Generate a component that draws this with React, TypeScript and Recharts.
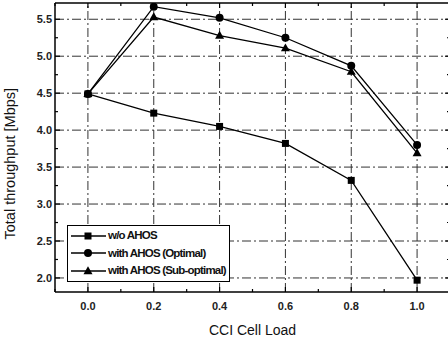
import {
  Legend,
  Line,
  LineChart,
  ReferenceLine,
  XAxis,
  YAxis,
} from 'recharts'

const loads = [0, 0.2, 0.4, 0.6, 0.8, 1.0]
const woAhos = [4.49, 4.23, 4.05, 3.82, 3.32, 1.97]
const optimal = [4.49, 5.67, 5.52, 5.25, 4.87, 3.8]
const subOptimal = [4.49, 5.53, 5.28, 5.11, 4.79, 3.69]

const xMajor = [0, 0.2, 0.4, 0.6, 0.8, 1.0]
const xMinor = [-0.1, 0.1, 0.3, 0.5, 0.7, 0.9, 1.1]
const yMajor = [2.0, 2.5, 3.0, 3.5, 4.0, 4.5, 5.0, 5.5]
const yMinor = [2.25, 2.75, 3.25, 3.75, 4.25, 4.75, 5.25]

const seriesNames = ['w/o AHOS', 'with AHOS (Optimal)', 'with AHOS (Sub-optimal)']

const data = loads.map((load, i) => ({
  load,
  wo: woAhos[i],
  opt: optimal[i],
  sub: subOptimal[i],
}))

const font = 'Arial, "Liberation Sans", sans-serif'
const gridDash = '9 3 2 3'

function Square({ cx, cy, size = 7 }: any) {
  return <rect x={cx - size / 2} y={cy - size / 2} width={size} height={size} fill="#000" />
}
function Circle({ cx, cy, r = 4 }: any) {
  return <circle cx={cx} cy={cy} r={r} fill="#000" />
}
function Triangle({ cx, cy, s = 9 }: any) {
  const h = s * 0.87
  return (
    <polygon
      points={`${cx},${cy - h * 0.6} ${cx - s / 2},${cy + h * 0.4} ${cx + s / 2},${cy + h * 0.4}`}
      fill="#000"
    />
  )
}

const markers = [Square, Circle, Triangle]

const allX = [...xMajor, ...xMinor].sort((a, b) => a - b)
const allY = [...yMajor, ...yMinor].sort((a, b) => a - b)
const isMajor = (v: number, list: number[]) => list.some((m) => Math.abs(m - v) < 1e-6)

function BottomTick({ x, y, payload }: any) {
  const major = isMajor(payload.value, xMajor)
  return (
    <g>
      <line x1={x} y1={y} x2={x} y2={y - (major ? 5 : 3)} stroke="#000" strokeWidth={1.2} />
      {major && (
        <text x={x} y={y + 18} textAnchor="middle" fontSize={11} fontWeight="bold" fill="#222" fontFamily={font}>
          {payload.value.toFixed(1)}
        </text>
      )}
    </g>
  )
}
function TopTick({ x, y, payload }: any) {
  const major = isMajor(payload.value, xMajor)
  return <line x1={x} y1={y} x2={x} y2={y + (major ? 5 : 3)} stroke="#000" strokeWidth={1.2} />
}
function LeftTick({ x, y, payload }: any) {
  const major = isMajor(payload.value, yMajor)
  return (
    <g>
      <line x1={x} y1={y} x2={x + (major ? 5 : 3)} y2={y} stroke="#000" strokeWidth={1.2} />
      {major && (
        <text x={x - 3} y={y + 4} textAnchor="end" fontSize={11} fontWeight="bold" fill="#222" fontFamily={font}>
          {payload.value.toFixed(1)}
        </text>
      )}
    </g>
  )
}
function RightTick({ x, y, payload }: any) {
  const major = isMajor(payload.value, yMajor)
  return <line x1={x} y1={y} x2={x - (major ? 5 : 3)} y2={y} stroke="#000" strokeWidth={1.2} />
}

function LegendBox() {
  return (
    <div
      style={{
        border: '1.5px solid #000',
        background: '#fff',
        padding: '1px 3px 1px 1px',
        fontFamily: font,
        fontSize: 11.5,
        fontWeight: 'bold',
        letterSpacing: -0.8,
        lineHeight: '17.5px',
        color: '#111',
        whiteSpace: 'nowrap',
      }}
    >
      {seriesNames.map((name, i) => {
        const M = markers[i]
        return (
          <div key={name} style={{ display: 'flex', alignItems: 'center' }}>
            <svg width={38} height={12} style={{ marginRight: 1 }}>
              <line x1={2} y1={6} x2={37} y2={6} stroke="#000" strokeWidth={1.3} />
              <M cx={19} cy={6} />
            </svg>
            <span>{name}</span>
          </div>
        )
      })}
    </div>
  )
}

export default function App() {
  const keys = ['wo', 'opt', 'sub']
  return (
    <div style={{ position: 'absolute', left: 0, top: 0, width: 448, height: 343, overflow: 'hidden', background: '#fff' }}>
      <LineChart width={452} height={343} data={data} margin={{ top: 2, right: 1, bottom: 0, left: 0 }}>
        {xMajor.map((v) => (
          <ReferenceLine key={'gx' + v} x={v} stroke="#333" strokeDasharray={gridDash} strokeWidth={1} />
        ))}
        {yMajor.map((v) => (
          <ReferenceLine key={'gy' + v} y={v} stroke="#333" strokeDasharray={gridDash} strokeWidth={1} />
        ))}
        <XAxis
          dataKey="load"
          type="number"
          domain={[-0.1, 1.1]}
          ticks={allX}
          interval={0}
          tickSize={0}
          tickMargin={0}
          tick={BottomTick}
          height={51}
          axisLine={{ stroke: '#000', strokeWidth: 1.5 }}
          tickLine={false}
          label={{ value: 'CCI Cell Load', position: 'insideBottom', offset: 8, fontSize: 14, fill: '#111', fontFamily: font }}
        />
        <XAxis
          xAxisId="top"
          orientation="top"
          dataKey="load"
          type="number"
          domain={[-0.1, 1.1]}
          ticks={allX}
          interval={0}
          tickSize={0}
          tickMargin={0}
          tick={TopTick}
          height={1}
          axisLine={{ stroke: '#000', strokeWidth: 1.5 }}
          tickLine={false}
        />
        <YAxis
          type="number"
          domain={[1.81, 5.72]}
          ticks={allY}
          interval={0}
          tickSize={0}
          tickMargin={0}
          tick={LeftTick}
          width={55}
          axisLine={{ stroke: '#000', strokeWidth: 1.5 }}
          tickLine={false}
          allowDataOverflow
          label={{
            value: 'Total throughput [Mbps]',
            angle: -90,
            position: 'insideLeft',
            offset: 10,
            dy: 92,
            fontSize: 14.5,
            fill: '#111',
            fontFamily: font,
          }}
        />
        <YAxis
          yAxisId="right"
          orientation="right"
          type="number"
          domain={[1.81, 5.72]}
          ticks={allY}
          interval={0}
          tickSize={0}
          tickMargin={0}
          tick={RightTick}
          width={1}
          axisLine={{ stroke: '#000', strokeWidth: 1.5 }}
          tickLine={false}
          allowDataOverflow
        />
        {keys.map((k, i) => {
          const M = markers[i]
          return (
            <Line
              key={k}
              dataKey={k}
              name={seriesNames[i]}
              type="linear"
              stroke="#000"
              strokeWidth={1.3}
              isAnimationActive={false}
              dot={(p: any) => <M key={k + p.index} cx={p.cx} cy={p.cy} />}
              activeDot={false}
            />
          )
        })}
        <Legend
          layout="vertical"
          align="center"
          verticalAlign="middle"
          content={<LegendBox />}
          wrapperStyle={{ position: 'absolute', left: 67, top: 225, width: 'auto', bottom: 'auto', right: 'auto' }}
        />
      </LineChart>
    </div>
  )
}
